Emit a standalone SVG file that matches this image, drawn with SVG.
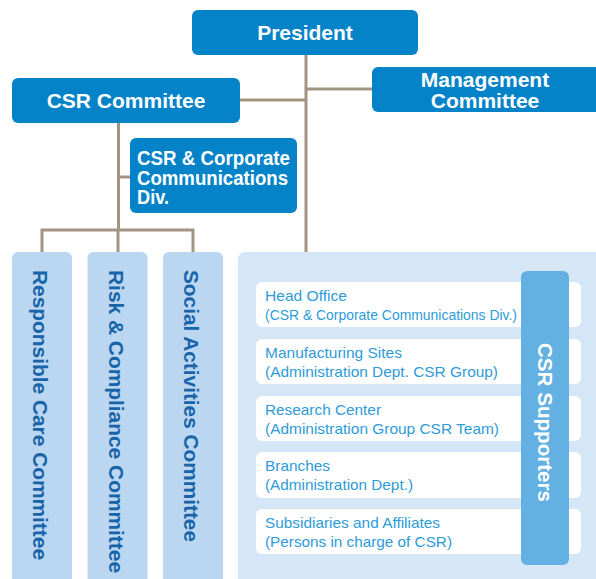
<svg xmlns="http://www.w3.org/2000/svg" width="596" height="579" viewBox="0 0 596 579">
<style>
.dk{fill:#0583c9}
.wt{fill:#fff;font-family:"Liberation Sans",Arial,sans-serif;font-weight:bold;font-size:21px}
.dv{font-size:20px}
.cm{fill:#bad6f0}
.ct{fill:#1764a8;font-family:"Liberation Sans",Arial,sans-serif;font-weight:bold;font-size:21px}
.row{fill:#fff}
.rt{fill:#2e9bd8;font-family:"Liberation Sans",Arial,sans-serif;font-size:15px}
.ln{stroke:#a39382;stroke-width:3;fill:none}
</style>
<g id="connectors">
<path class="ln" d="M306 55V252M306 89H374M240 100H306M118.5 123V230M118.5 177H130M40.5 230H194.5M42 230V252M118 230V252M193 230V252"/>
</g>
<g id="president">
<rect class="dk" x="192" y="10" width="226" height="45" rx="6"/>
<text class="wt" x="305" y="40" text-anchor="middle">President</text>
</g>
<g id="management">
<rect class="dk" x="372" y="67" width="230" height="45" rx="6"/>
<text class="wt" x="485" y="87" text-anchor="middle">Management</text>
<text class="wt" x="485" y="108" text-anchor="middle">Committee</text>
</g>
<g id="csr-committee">
<rect class="dk" x="12" y="78" width="228" height="45" rx="6"/>
<text class="wt" x="126" y="108" text-anchor="middle">CSR Committee</text>
</g>
<g id="csr-div">
<rect class="dk" x="130" y="138" width="167" height="75" rx="6"/>
<text class="wt dv" x="137" y="165" textLength="153" lengthAdjust="spacingAndGlyphs">CSR &amp; Corporate</text>
<text class="wt dv" x="137" y="185" textLength="151" lengthAdjust="spacingAndGlyphs">Communications</text>
<text class="wt dv" x="137" y="204" textLength="32" lengthAdjust="spacingAndGlyphs">Div.</text>
</g>
<g id="responsible-care">
<rect class="cm" x="12" y="252" width="60" height="340" rx="6"/>
<text class="ct" transform="translate(33 270) rotate(90)" textLength="290" lengthAdjust="spacingAndGlyphs">Responsible Care Committee</text>
</g>
<g id="risk-compliance">
<rect class="cm" x="87.5" y="252" width="60" height="340" rx="6"/>
<text class="ct" transform="translate(108.5 270) rotate(90)" textLength="303" lengthAdjust="spacingAndGlyphs">Risk &amp; Compliance Committee</text>
</g>
<g id="social-activities">
<rect class="cm" x="163" y="252" width="60" height="340" rx="6"/>
<text class="ct" transform="translate(184 270) rotate(90)" textLength="272" lengthAdjust="spacingAndGlyphs">Social Activities Committee</text>
</g>
<g id="supporters-panel">
<rect x="238" y="252" width="365" height="340" rx="7" fill="#d5e6f6"/>
</g>
<g id="head-office">
<rect class="row" x="256" y="282" width="325" height="45" rx="6"/>
<text class="rt" x="265" y="301" textLength="82" lengthAdjust="spacingAndGlyphs">Head Office</text>
<text class="rt" x="265" y="320" textLength="252" lengthAdjust="spacingAndGlyphs">(CSR &amp; Corporate Communications Div.)</text>
</g>
<g id="manufacturing">
<rect class="row" x="256" y="339" width="325" height="45" rx="6"/>
<text class="rt" x="265" y="358" textLength="137" lengthAdjust="spacingAndGlyphs">Manufacturing Sites</text>
<text class="rt" x="265" y="377" textLength="233" lengthAdjust="spacingAndGlyphs">(Administration Dept. CSR Group)</text>
</g>
<g id="research">
<rect class="row" x="256" y="396" width="325" height="45" rx="6"/>
<text class="rt" x="265" y="415" textLength="116" lengthAdjust="spacingAndGlyphs">Research Center</text>
<text class="rt" x="265" y="434" textLength="234" lengthAdjust="spacingAndGlyphs">(Administration Group CSR Team)</text>
</g>
<g id="branches">
<rect class="row" x="256" y="452" width="325" height="46" rx="6"/>
<text class="rt" x="265" y="471" textLength="65" lengthAdjust="spacingAndGlyphs">Branches</text>
<text class="rt" x="265" y="490" textLength="148" lengthAdjust="spacingAndGlyphs">(Administration Dept.)</text>
</g>
<g id="subsidiaries">
<rect class="row" x="256" y="509" width="325" height="45" rx="6"/>
<text class="rt" x="265" y="528" textLength="175" lengthAdjust="spacingAndGlyphs">Subsidiaries and Affiliates</text>
<text class="rt" x="265" y="547" textLength="187" lengthAdjust="spacingAndGlyphs">(Persons in charge of CSR)</text>
</g>
<g id="csr-supporters">
<rect x="521" y="271" width="48" height="294" rx="6" fill="#63b0e3"/>
<text class="wt" transform="translate(537.5 343) rotate(90)" textLength="159" lengthAdjust="spacingAndGlyphs">CSR Supporters</text>
</g>
</svg>
